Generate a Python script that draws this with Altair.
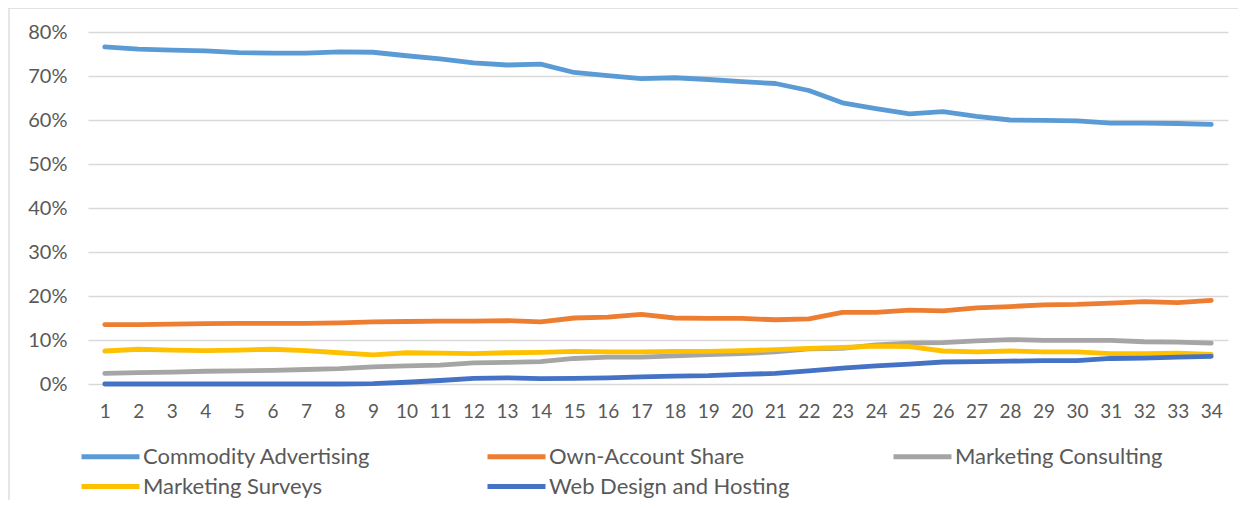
import altair as alt
import pandas as pd

periods = list(range(1, 35))

commodity_advertising = [76.6, 76.1, 75.9, 75.7, 75.3, 75.2, 75.2, 75.5, 75.4, 74.6,
                         73.9, 73.0, 72.5, 72.7, 70.8, 70.1, 69.4, 69.6, 69.2, 68.7,
                         68.3, 66.7, 63.9, 62.6, 61.4, 61.9, 60.8, 60.0, 59.9, 59.8,
                         59.3, 59.3, 59.2, 59.0]
own_account_share = [13.5, 13.5, 13.6, 13.7, 13.8, 13.8, 13.8, 13.9, 14.1, 14.2,
                     14.3, 14.3, 14.4, 14.1, 15.0, 15.2, 15.8, 15.0, 14.9, 14.9,
                     14.6, 14.8, 16.3, 16.3, 16.8, 16.6, 17.3, 17.6, 18.0, 18.1,
                     18.4, 18.7, 18.5, 19.0]
marketing_consulting = [2.4, 2.6, 2.7, 2.9, 3.0, 3.1, 3.3, 3.5, 3.9, 4.1,
                        4.3, 4.8, 4.9, 5.1, 5.8, 6.1, 6.1, 6.4, 6.7, 6.9,
                        7.3, 8.0, 8.1, 8.9, 9.3, 9.4, 9.8, 10.1, 9.9, 9.9,
                        9.9, 9.6, 9.5, 9.3]
marketing_surveys = [7.5, 7.9, 7.7, 7.6, 7.7, 7.9, 7.6, 7.1, 6.6, 7.1,
                     7.0, 6.9, 7.1, 7.2, 7.4, 7.3, 7.3, 7.4, 7.4, 7.6,
                     7.8, 8.1, 8.3, 8.6, 8.5, 7.5, 7.3, 7.5, 7.3, 7.3,
                     6.9, 6.9, 7.0, 6.7]
web_design_hosting = [0.0, 0.0, 0.0, 0.0, 0.0, 0.0, 0.0, 0.0, 0.1, 0.4,
                      0.8, 1.3, 1.4, 1.2, 1.3, 1.4, 1.6, 1.8, 1.9, 2.2,
                      2.4, 3.0, 3.6, 4.1, 4.5, 5.0, 5.1, 5.2, 5.3, 5.3,
                      5.8, 5.9, 6.1, 6.3]

series_names = ["Commodity Advertising", "Own-Account Share", "Marketing Consulting",
                "Marketing Surveys", "Web Design and Hosting"]
series_values = [commodity_advertising, own_account_share, marketing_consulting,
                 marketing_surveys, web_design_hosting]
series_colors = ["#5B9BD5", "#ED7D31", "#A5A5A5", "#FFC000", "#4472C4"]
y_ticks = [0, 0.1, 0.2, 0.3, 0.4, 0.5, 0.6, 0.7, 0.8]

rows = []
for i, (name, vals) in enumerate(zip(series_names, series_values)):
    for p, v in zip(periods, vals):
        rows.append({"period": p, "share": v / 100.0, "series": name, "ord": i})
df = pd.DataFrame(rows)

FONT = "Lato"
TXT = "#595959"

lines = alt.Chart(df).mark_line(strokeWidth=4.8, strokeCap="round", strokeJoin="round").encode(
    x=alt.X("period:O", scale=alt.Scale(type="point", padding=0.5),
            axis=alt.Axis(title=None, labelAngle=0, domain=False, ticks=False,
                          labelPadding=18, labelFontSize=19, labelColor=TXT,
                          labelFont=FONT, grid=False)),
    y=alt.Y("share:Q", scale=alt.Scale(domain=[0, 0.8], nice=False),
            axis=alt.Axis(title=None, values=y_ticks, format=".0%", domain=False,
                          ticks=False, labelPadding=21, labelFontSize=20,
                          labelColor=TXT, labelFont=FONT, gridColor="#D9D9D9",
                          gridWidth=1.3)),
    color=alt.Color("series:N",
                    scale=alt.Scale(domain=series_names, range=series_colors),
                    legend=alt.Legend(title=None, orient="none", legendX=10, legendY=412,
                                      direction="horizontal", columns=3,
                                      gridAlign="all", columnPadding=93, rowPadding=6,
                                      symbolType="M-2.9,0H2.9", symbolSize=400,
                                      symbolStrokeWidth=5, labelOffset=20,
                                      labelFontSize=22, labelColor=TXT,
                                      labelFont=FONT, labelLimit=400)),
    order=alt.Order("ord:Q"),
    detail="series:N",
)

border = alt.Chart(alt.Data(values=[{}])).mark_rect(
    fill="transparent", stroke="#D9D9D9", strokeWidth=1.3
).encode(
    x=alt.value(-79), x2=alt.value(1180), y=alt.value(-24), y2=alt.value(490)
)

chart = alt.layer(border, lines).properties(
    width=1140, height=352,
    padding={"left": 80, "top": 24, "right": 10, "bottom": 116},
    autosize=alt.AutoSizeParams(type="none"),
).configure_view(stroke=None)

chart.save("out.html", embed_options={"renderer": "svg", "actions": False})
